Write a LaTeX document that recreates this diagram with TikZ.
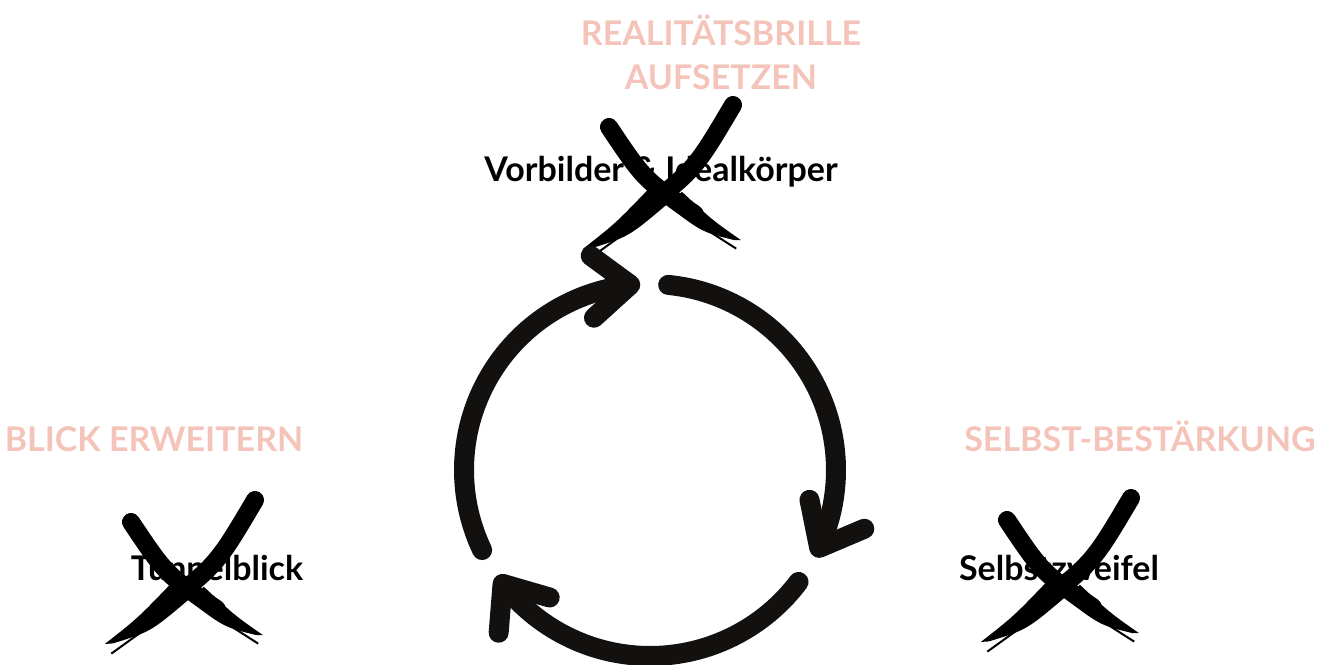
\documentclass[tikz,border=0pt]{standalone}
\usepackage{fontspec}
\setmainfont{Lato}
\usepackage{tikz}
\usetikzlibrary{arrows.meta,bending}
\definecolor{headpink}{RGB}{244,196,186}
\definecolor{inkblack}{RGB}{18,17,15}
\tikzset{
  heading/.style ={font=\bfseries\fontsize{34}{44}\selectfont, text=headpink, align=center, inner sep=0pt},
  lbl/.style     ={font=\bfseries\fontsize{34}{42}\selectfont, text=black, inner sep=0pt},
  cyc/.style     ={draw=inkblack, line width=20pt, line cap=round, -{Straight Barb[length=38pt, width=62pt, round]}},
  pics/brushstroke/.style={code={
    \draw[line width=18pt, line cap=round] (0,0) .. controls (35,-9.8) .. (70,-5.9);
    \fill (56,-1) .. controls (80,-2) .. (100,0) -- (97,-2.5) .. controls (80,-11) .. (56,-12.5) -- cycle;
    \draw[line width=2pt] (76,-9) -- (101,-5.5);
  }},
  pics/crossout/.style={code={
    \pic[rotate=-40.6, scale=1.74] at (-52,58) {brushstroke};
    \pic[rotate=223.8, xscale=2.08, yscale=-2.08] at (72,80) {brushstroke};
  }},
}

\begin{document}
\begin{tikzpicture}[x=1pt, y=1pt]
  \useasboundingbox (0,0) rectangle (1330,664);
  \coordinate (hub) at (650,194);

  % what to do instead
  \node[heading] (realtitle) at (721,612) {REALITÄTSBRILLE\\AUFSETZEN};
  \node[heading, anchor=base] (blicktitle) at (154,212) {BLICK ERWEITERN};
  \node[heading, anchor=base] (selbsttitle) at (1140,212) {SELBST-BESTÄRKUNG};

  % the crossed out traps
  \node[lbl, anchor=base] (vorbilder) at (661,482) {Vorbilder \& Idealkörper};
  \node[lbl, anchor=base] (tunnel) at (217,84) {Tunnelblick};
  \node[lbl, anchor=base] (zweifel) at (1059,84) {Selbstzweifel};
  \pic at ([yshift=-3pt]vorbilder.base) {crossout};
  \pic at ([xshift=-34pt]tunnel.base) {crossout};
  \pic at ([yshift=2pt]zweifel.base) {crossout};

  % the cycle
  \draw[cyc] ([shift={(205.5:186)}]hub) arc[start angle=205.5, end angle=93, radius=186];
  \draw[cyc] ([shift={(84.4:186)}]hub) arc[start angle=84.4, end angle=-27.8, radius=186];
  \draw[cyc] ([shift={(-37:186)}]hub) arc[start angle=-37, end angle=-145.4, radius=186];
\end{tikzpicture}
\end{document}
